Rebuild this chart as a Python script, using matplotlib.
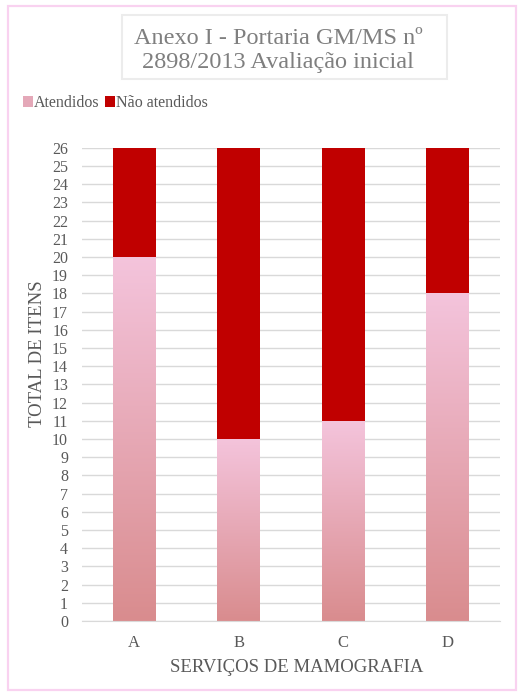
import numpy as np
import matplotlib
matplotlib.use("Agg")
import matplotlib.pyplot as plt
from matplotlib.colors import LinearSegmentedColormap
from matplotlib.patches import Rectangle, Patch

plt.rcParams["font.family"] = ["Liberation Serif", "DejaVu Serif"]

servicos = ["A", "B", "C", "D"]
atendidos = [20, 10, 11, 18]
nao_atendidos = [6, 16, 15, 8]
yticks = list(range(0, 27))

fig = plt.figure(figsize=(5.24, 6.97), dpi=100)
ax = fig.add_axes([0.1565, 0.109, 0.798, 0.679])

x = np.arange(len(servicos))
largura = 0.41
grad = LinearSegmentedColormap.from_list("rosa", ["#d98c8e", "#f4c4dc"])

# barras "Atendidos" com degradê vertical, recortado pelo retângulo da barra
barras = ax.bar(x, atendidos, width=largura, color="none", zorder=2)
for b in barras:
    x0, y0 = b.get_x(), b.get_y()
    w, h = b.get_width(), b.get_height()
    img = ax.imshow(np.linspace(0, 1, 256).reshape(-1, 1), cmap=grad,
                    extent=[x0, x0 + w, y0, y0 + h], origin="lower",
                    aspect="auto", zorder=2)
    img.set_clip_path(b)
ax.bar(x, nao_atendidos, width=largura, bottom=atendidos,
       color="#c00000", zorder=2)

ax.set_xlim(-0.5, len(servicos) - 0.5)
ax.set_ylim(0, 26)
ax.set_yticks(yticks)
ax.set_xticks(x)
ax.set_xticklabels(servicos)
ax.tick_params(axis="x", length=0, labelsize=12, colors="#595959", pad=10)
ax.tick_params(axis="y", length=0, labelsize=11.5, colors="#595959", pad=10)
ax.grid(axis="y", color="#d9d9d9", linewidth=1.0, zorder=0)
for s in ["top", "right", "left"]:
    ax.spines[s].set_visible(False)
ax.spines["bottom"].set_color("#d9d9d9")

ax.set_ylabel("TOTAL DE ITENS", fontsize=13.5, color="#595959")
ax.yaxis.set_label_coords(-0.086, 0.565)
ax.set_xlabel("SERVIÇOS DE MAMOGRAFIA", fontsize=13.5, color="#595959")
ax.xaxis.set_label_coords(0.514, -0.08)

# título com moldura cinza clara
fig.patches.append(Rectangle((0.233, 0.887), 0.62, 0.091, transform=fig.transFigure,
                             facecolor="white", edgecolor="#ececec", linewidth=1.5))
fig.text(0.531, 0.928, "Anexo I - Portaria GM/MS nº\n2898/2013 Avaliação inicial",
         ha="center", va="center", fontsize=17.5, color="#7f7f7f", linespacing=1.2)

handles = [Patch(facecolor="#e4a8b8", label="Atendidos"),
           Patch(facecolor="#c00000", label="Não atendidos")]
fig.legend(handles=handles, loc="center left", bbox_to_anchor=(0.043, 0.852),
           ncol=2, frameon=False, fontsize=11.5, handlelength=0.65, handleheight=0.65,
           handletextpad=0.05, columnspacing=0.35, labelcolor="#595959",
           borderpad=0, borderaxespad=0)

fig.patches.append(Rectangle((0.016, 0.01), 0.968, 0.981, transform=fig.transFigure,
                             fill=False, edgecolor="#f9d2f0", linewidth=1.6))

fig.savefig("out.png", dpi=100)
